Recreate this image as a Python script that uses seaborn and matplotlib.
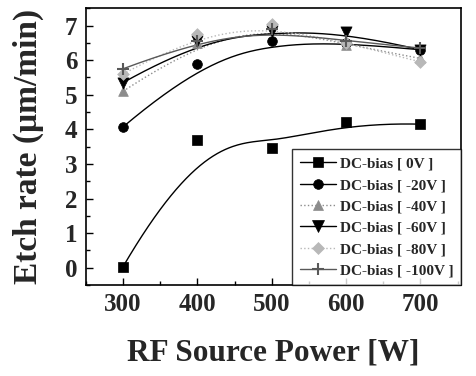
import numpy as np
import pandas as pd
import seaborn as sns
import matplotlib
matplotlib.use("Agg")
import matplotlib.pyplot as plt
from matplotlib.lines import Line2D
from matplotlib.ticker import MultipleLocator

power = [300, 400, 500, 600, 700]
bias_0 = [0.03, 3.7, 3.45, 4.2, 4.15]
bias_20 = [4.07, 5.88, 6.55, 6.5, 6.3]
bias_40 = [5.1, 6.5, 7.05, 6.45, 6.05]
bias_60 = [5.35, 6.55, 6.85, 6.8, 6.3]
bias_80 = [5.6, 6.75, 7.05, 6.5, 5.95]
bias_100 = [5.75, 6.55, 6.9, 6.55, 6.35]
labels = ["DC-bias [ 0V ]", "DC-bias [ -20V ]", "DC-bias [ -40V ]",
          "DC-bias [ -60V ]", "DC-bias [ -80V ]", "DC-bias [ -100V ]"]
series = [bias_0, bias_20, bias_40, bias_60, bias_80, bias_100]

markers = ["s", "o", "^", "v", "D", "+"]
colors = ["black", "black", "0.55", "black", "0.72", "0.35"]
msizes = [7, 7, 7, 8, 6, 9]
lstyles = ["-", "-", ":", "-", ":", "-"]

sns.set_theme(style="ticks")
plt.rcParams["font.family"] = ["Liberation Serif", "DejaVu Serif"]
plt.rcParams["font.weight"] = "bold"


def bspline(xs, ys, n=200):
    # clamped cubic B-spline through control points
    P = np.column_stack([xs, ys]).astype(float)
    k = 3
    m = len(P)
    inner = np.linspace(0, 1, m - k + 1)[1:-1]
    knots = np.concatenate([[0] * (k + 1), inner, [1] * (k + 1)])
    t = np.linspace(0, 1, n)
    t[-1] -= 1e-9

    def basis(i, p, tt):
        if p == 0:
            return np.where((knots[i] <= tt) & (tt < knots[i + 1]), 1.0, 0.0)
        a = 0.0
        d1 = knots[i + p] - knots[i]
        if d1 > 0:
            a = (tt - knots[i]) / d1 * basis(i, p - 1, tt)
        b = 0.0
        d2 = knots[i + p + 1] - knots[i + 1]
        if d2 > 0:
            b = (knots[i + p + 1] - tt) / d2 * basis(i + 1, p - 1, tt)
        return a + b

    B = np.array([basis(i, k, t) for i in range(m)])
    C = B.T @ P
    return C[:, 0], C[:, 1]


fig, ax = plt.subplots(figsize=(4.77, 3.76), dpi=100)
fig.subplots_adjust(left=0.18, right=0.967, top=0.978, bottom=0.242)

handles = []
for ys, lab, mk, c, ms, ls in zip(series, labels, markers, colors, msizes, lstyles):
    sx, sy = bspline(power, ys)
    sns.lineplot(x=sx, y=sy, ax=ax, color=c, lw=1.0, linestyle=ls, sort=False)
    df = pd.DataFrame({"x": power, "y": ys})
    sns.scatterplot(data=df, x="x", y="y", ax=ax, marker=mk, color=c,
                    s=ms ** 2, edgecolor=c if mk != "+" else None,
                    linewidth=1.5 if mk == "+" else 0.5, zorder=3)
    handles.append(Line2D([0], [0], color=c, lw=1.0, linestyle=ls, marker=mk,
                          markersize=ms, markeredgewidth=1.5 if mk == "+" else 0.5))

ax.set_xlim(250, 755)
ax.set_ylim(-0.5, 7.5)
ax.set_xticks(power)
ax.set_yticks(range(0, 8))
ax.xaxis.set_minor_locator(MultipleLocator(50))
ax.yaxis.set_minor_locator(MultipleLocator(0.5))
ax.tick_params(which="both", direction="in", top=False, right=False, color="black")
ax.tick_params(which="major", length=5, width=1, labelsize=18, pad=6)
ax.tick_params(which="minor", length=3, width=1)
for lab in ax.get_xticklabels() + ax.get_yticklabels():
    lab.set_fontweight("bold")
for sp in ax.spines.values():
    sp.set_color("black")
    sp.set_linewidth(1.2)

ax.set_xlabel("RF Source Power [W]", fontsize=22.5, fontweight="bold", labelpad=16)
ax.set_ylabel("Etch rate (μm/min)", fontsize=24, fontweight="bold", labelpad=15)

leg = ax.legend(handles, labels, loc="lower right", borderaxespad=0,
                frameon=True, fancybox=False, edgecolor="black",
                prop={"weight": "bold", "size": 11}, handlelength=2.4,
                labelspacing=0.5, handletextpad=0.25, borderpad=0.5)
leg.get_frame().set_linewidth(1.0)

fig.savefig("out.png", dpi=100)
